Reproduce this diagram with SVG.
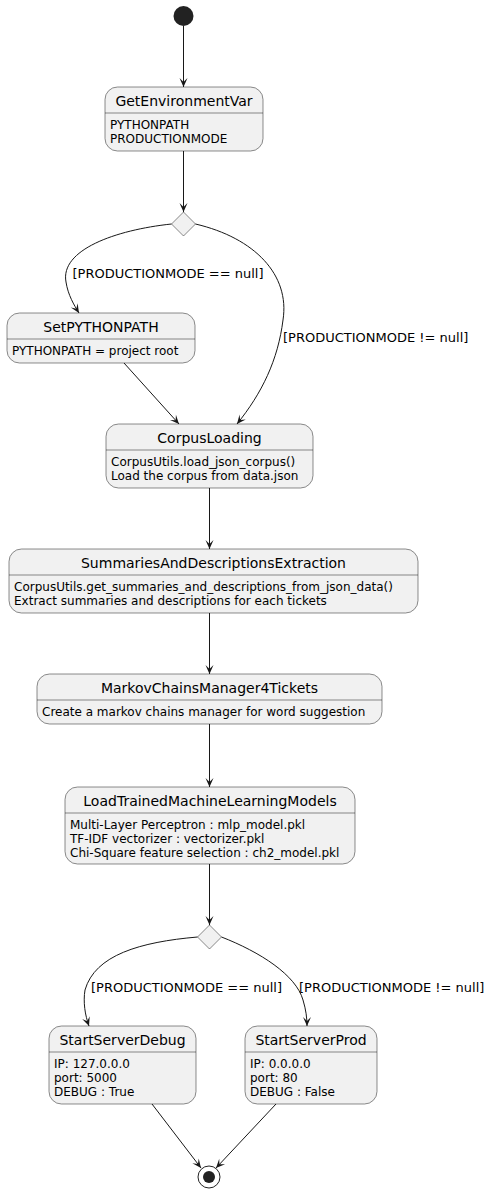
<svg xmlns="http://www.w3.org/2000/svg" width="491" height="1192" viewBox="0 0 491 1192">
<style>
.box{fill:#F1F1F1;stroke:#181818;stroke-width:0.5}
.sep{stroke:#181818;stroke-width:0.5}
.ttl{font-family:"DejaVu Sans",sans-serif;font-size:14px;fill:#000;text-anchor:middle}
.bd{font-family:"DejaVu Sans",sans-serif;font-size:12px;fill:#000}
.lbl{font-family:"DejaVu Sans",sans-serif;font-size:13px;fill:#000}
.edge{fill:none;stroke:#181818;stroke-width:1;marker-end:url(#ah)}
</style>
<defs>
<marker id="ah" viewBox="-10 -5 11 10" refX="0" refY="0" markerWidth="11" markerHeight="10" orient="auto" markerUnits="userSpaceOnUse">
<path d="M0,0 L-9,-4 L-5,0 L-9,4 Z" fill="#181818"/>
</marker>
</defs>
<rect width="491" height="1192" fill="#FFFFFF"/>
<g id="start"><circle cx="183.5" cy="16" r="10" fill="#222222"/></g>
<g id="GetEnvironmentVar">
<rect class="box" x="105" y="87" width="158" height="64" rx="12.5"/>
<line class="sep" x1="105" y1="113" x2="263" y2="113"/>
<text class="ttl" x="184" y="106">GetEnvironmentVar</text>
<text class="bd" x="110" y="129">PYTHONPATH</text>
<text class="bd" x="110" y="143">PRODUCTIONMODE</text>
</g>
<g id="choice1"><polygon class="box" points="183.5,212 195.5,224 183.5,236 171.5,224"/></g>
<g id="SetPYTHONPATH">
<rect class="box" x="7" y="313" width="188" height="50" rx="12.5"/>
<line class="sep" x1="7" y1="339" x2="195" y2="339"/>
<text class="ttl" x="101" y="332">SetPYTHONPATH</text>
<text class="bd" x="12" y="355">PYTHONPATH = project root</text>
</g>
<g id="CorpusLoading">
<rect class="box" x="106" y="424" width="207" height="64" rx="12.5"/>
<line class="sep" x1="106" y1="450" x2="313" y2="450"/>
<text class="ttl" x="209.5" y="443">CorpusLoading</text>
<text class="bd" x="111" y="466">CorpusUtils.load_json_corpus()</text>
<text class="bd" x="111" y="480">Load the corpus from data.json</text>
</g>
<g id="SummariesAndDescriptionsExtraction">
<rect class="box" x="9" y="549" width="409" height="64" rx="12.5"/>
<line class="sep" x1="9" y1="575" x2="418" y2="575"/>
<text class="ttl" x="213.5" y="568">SummariesAndDescriptionsExtraction</text>
<text class="bd" x="14" y="591">CorpusUtils.get_summaries_and_descriptions_from_json_data()</text>
<text class="bd" x="14" y="605">Extract summaries and descriptions for each tickets</text>
</g>
<g id="MarkovChainsManager4Tickets">
<rect class="box" x="37" y="674" width="345" height="50" rx="12.5"/>
<line class="sep" x1="37" y1="700" x2="382" y2="700"/>
<text class="ttl" x="209.5" y="693">MarkovChainsManager4Tickets</text>
<text class="bd" x="42" y="716">Create a markov chains manager for word suggestion</text>
</g>
<g id="LoadTrainedMachineLearningModels">
<rect class="box" x="65" y="787" width="290" height="77" rx="12.5"/>
<line class="sep" x1="65" y1="813" x2="355" y2="813"/>
<text class="ttl" x="210" y="806">LoadTrainedMachineLearningModels</text>
<text class="bd" x="70" y="829">Multi-Layer Perceptron : mlp_model.pkl</text>
<text class="bd" x="70" y="843">TF-IDF vectorizer : vectorizer.pkl</text>
<text class="bd" x="70" y="857">Chi-Square feature selection : ch2_model.pkl</text>
</g>
<g id="choice2"><polygon class="box" points="209.5,925 221.5,937 209.5,949 197.5,937"/></g>
<g id="StartServerDebug">
<rect class="box" x="49" y="1026" width="147" height="78" rx="12.5"/>
<line class="sep" x1="49" y1="1052" x2="196" y2="1052"/>
<text class="ttl" x="122.5" y="1045">StartServerDebug</text>
<text class="bd" x="54" y="1068">IP: 127.0.0.0</text>
<text class="bd" x="54" y="1082">port: 5000</text>
<text class="bd" x="54" y="1096">DEBUG : True</text>
</g>
<g id="StartServerProd">
<rect class="box" x="245" y="1026" width="132" height="78" rx="12.5"/>
<line class="sep" x1="245" y1="1052" x2="377" y2="1052"/>
<text class="ttl" x="311" y="1045">StartServerProd</text>
<text class="bd" x="250" y="1068">IP: 0.0.0.0</text>
<text class="bd" x="250" y="1082">port: 80</text>
<text class="bd" x="250" y="1096">DEBUG : False</text>
</g>
<g id="end">
<circle cx="209" cy="1177" r="11" fill="none" stroke="#222222" stroke-width="1"/>
<circle cx="209" cy="1177" r="6" fill="#222222"/>
</g>
<g id="connectors">
<path class="edge" d="M183.5,26 L183.5,87"/>
<path class="edge" d="M183.5,151 L183.5,212"/>
<path class="edge" d="M171.5,224 C115,230 60,250 66,282 C68,295 74,305 79,313"/>
<path class="edge" d="M195.5,224 C255,238 290,275 283,320 C278,360 262,393 237,424"/>
<path class="edge" d="M124,363 L179,424"/>
<path class="edge" d="M209.5,488 L209.5,549"/>
<path class="edge" d="M209.5,613 L209.5,674"/>
<path class="edge" d="M209.5,724 L209.5,787"/>
<path class="edge" d="M209.5,864 L209.5,925"/>
<path class="edge" d="M197.5,937 C140,942 95,955 85,990 C83,1002 85,1015 89,1026"/>
<path class="edge" d="M221.5,937 C260,952 296,975 303,1000 C306,1010 307,1018 307,1026"/>
<path class="edge" d="M152,1104 L201,1168"/>
<path class="edge" d="M276,1104 L216,1168"/>
<text class="lbl" x="72.5" y="278">[PRODUCTIONMODE == null]</text>
<text class="lbl" x="283" y="342">[PRODUCTIONMODE != null]</text>
<text class="lbl" x="91" y="992">[PRODUCTIONMODE == null]</text>
<text class="lbl" x="299" y="992">[PRODUCTIONMODE != null]</text>
</g>
</svg>
